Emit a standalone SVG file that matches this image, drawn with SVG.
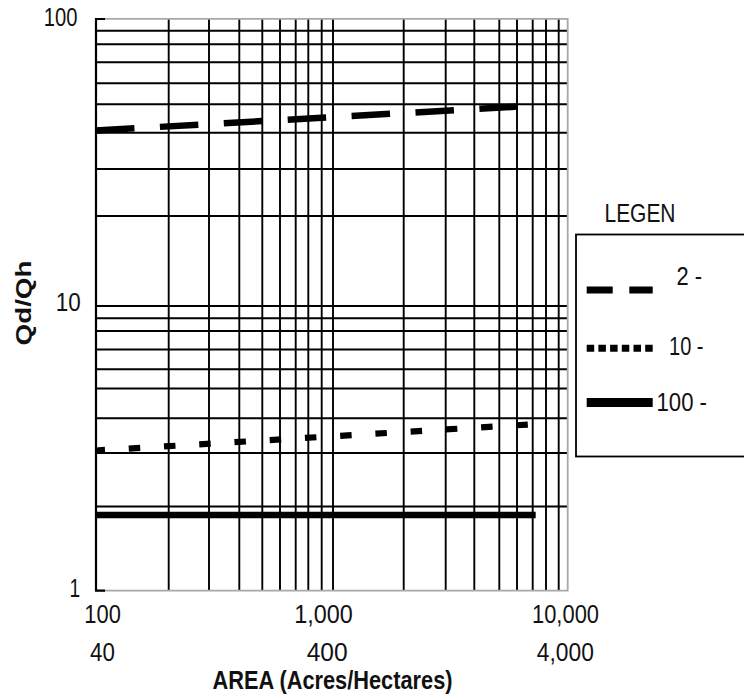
<svg xmlns="http://www.w3.org/2000/svg" width="744" height="698" viewBox="0 0 744 698">
<style>
.grid{stroke:#000;stroke-width:1.9;fill:none}
.frame{stroke:#a8a8a8;stroke-width:1.8;fill:none}
.axis{stroke:#000;stroke-width:2.2;fill:none}
.series{stroke:#000;fill:none;stroke-linecap:butt}
.t{font-family:"Liberation Sans",Arial,sans-serif;font-size:25px;fill:#111}
.b{font-family:"Liberation Sans",Arial,sans-serif;font-weight:bold;fill:#111}
</style>
<rect width="744" height="698" fill="#fff"/>
<g id="grid">
<path class="grid" d="M96 30.7H567M96 44.3H567M96 62.3H567M96 83.3H567M96 104.3H567M96 132.7H567M96 169H567M96 216H567M96 306H567M96 318.3H567M96 331H567M96 349.5H567M96 369.3H567M96 388.5H567M96 418.3H567M96 453H567M96 506.5H567"/>
<path class="grid" d="M168.7 19V591M209 19V591M239.3 19V591M262.3 19V591M280 19V591M295.7 19V591M308.3 19V591M321.7 19V591M333 19V591M403.7 19V591M445.7 19V591M474.3 19V591M499.3 19V591M517 19V591M532.7 19V591M546 19V591M558.7 19V591"/>
</g>
<g id="frame">
<path class="frame" d="M96 18.8H567.7V590.7H96"/>
<path class="axis" d="M105 19H96V590.7H105"/>
</g>
<g id="series">
<line class="series" x1="96" y1="130.5" x2="519.3" y2="106.5" stroke-width="6.5" stroke-dasharray="38.5 25.5"/>
<line class="series" x1="96" y1="450.5" x2="528.5" y2="424.5" stroke-width="6.2" stroke-dasharray="11.5 23.8" stroke-dashoffset="2.5"/>
<line class="series" x1="96" y1="515" x2="535.7" y2="515" stroke-width="6.5"/>
</g>
<g id="axis-labels">
<text class="t" x="43.8" y="25.5" textLength="33.7" lengthAdjust="spacingAndGlyphs">100</text>
<text class="t" x="55.8" y="311" textLength="25" lengthAdjust="spacingAndGlyphs">10</text>
<text class="t" x="69.6" y="596.5" textLength="10.6" lengthAdjust="spacingAndGlyphs">1</text>
<text class="t" x="84.3" y="622.8" textLength="36.5" lengthAdjust="spacingAndGlyphs">100</text>
<text class="t" x="90.1" y="661.2" textLength="24.8" lengthAdjust="spacingAndGlyphs">40</text>
<text class="t" x="294.2" y="622.8" textLength="58.5" lengthAdjust="spacingAndGlyphs">1,000</text>
<text class="t" x="306.7" y="661.2" textLength="41" lengthAdjust="spacingAndGlyphs">400</text>
<text class="t" x="532" y="622.8" textLength="67" lengthAdjust="spacingAndGlyphs">10,000</text>
<text class="t" x="536.8" y="661.2" textLength="57" lengthAdjust="spacingAndGlyphs">4,000</text>
<text class="b" x="212.5" y="689" font-size="26" textLength="240" lengthAdjust="spacingAndGlyphs">AREA (Acres/Hectares)</text>
<text class="b" font-size="25" transform="translate(30.5,345.5) scale(0.88,1) rotate(-90)" x="0" y="0" textLength="85" lengthAdjust="spacingAndGlyphs">Qd/Qh</text>
</g>
<g id="legend">
<text class="t" x="604.5" y="221.5" textLength="71" lengthAdjust="spacingAndGlyphs">LEGEN</text>
<rect x="576" y="234.5" width="180" height="222" fill="#fff" stroke="#000" stroke-width="1.8"/>
<rect x="586.7" y="286.5" width="26" height="7" fill="#000"/>
<rect x="629.3" y="286.5" width="23.4" height="7" fill="#000"/>
<line class="series" x1="586.7" y1="348.3" x2="652.7" y2="348.3" stroke-width="7" stroke-dasharray="7.5 4.2"/>
<rect x="586.7" y="398" width="66" height="9" fill="#000"/>
<text class="t" x="676.5" y="285" font-size="26" textLength="25.5" lengthAdjust="spacingAndGlyphs">2 -</text>
<text class="t" x="669" y="355" font-size="23.5" textLength="34.5" lengthAdjust="spacingAndGlyphs">10 -</text>
<text class="t" x="656.5" y="410.7" font-size="23.5" textLength="50.5" lengthAdjust="spacingAndGlyphs">100 -</text>
</g>
</svg>
